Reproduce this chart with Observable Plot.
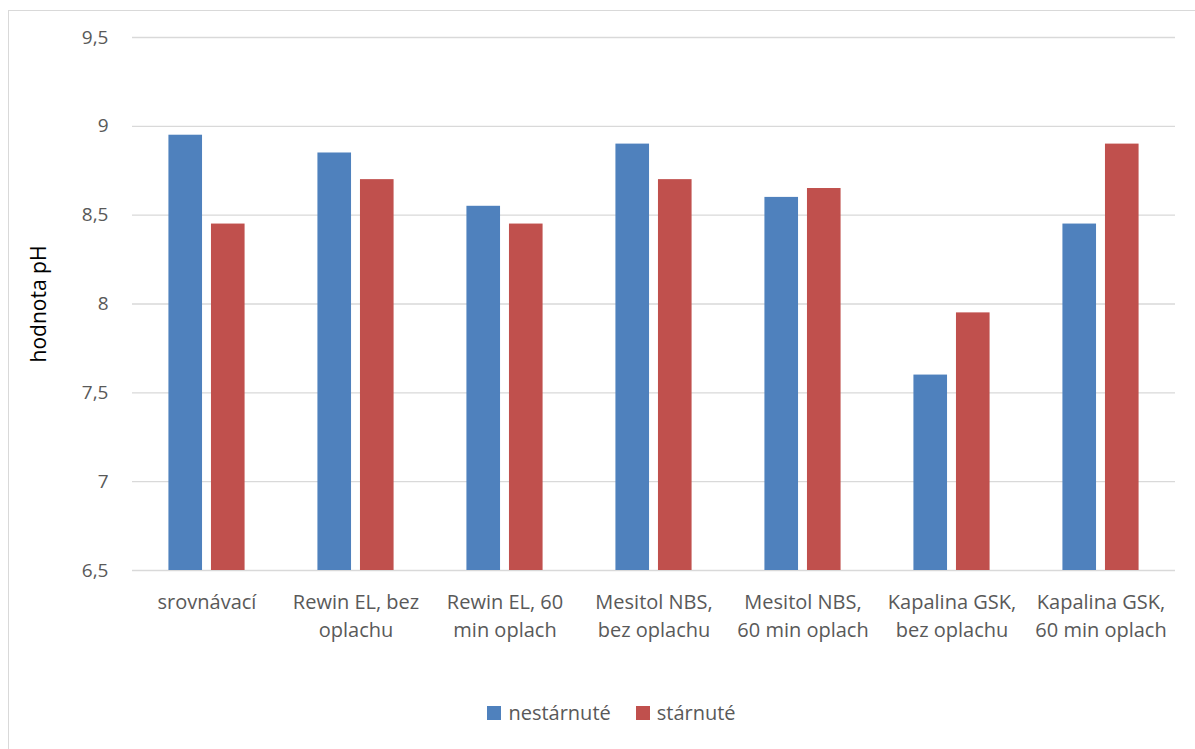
<!DOCTYPE html>
<html>
<head>
<meta charset="utf-8">
<script src="https://cdn.jsdelivr.net/npm/d3@7"></script>
<script src="https://cdn.jsdelivr.net/npm/@observablehq/plot@0.6"></script>
<style>
  body { margin: 0; background: #fff; font-family: "Open Sans", sans-serif; }
  #frame { position: absolute; left: 8px; top: 10px; width: 1200px; height: 760px; border: 1px solid #d9d9d9; box-sizing: border-box; pointer-events: none; }
  #chart { position: absolute; left: 0; top: 0; }
  #legend { position: absolute; top: 699px; left: 0; width: 1195px; display: flex; justify-content: center; gap: 25px; font-size: 20px; color: #595959; padding-left: 28px; box-sizing: border-box; }
  #legend span.item { display: inline-flex; align-items: center; gap: 7px; }
  #legend span.sw { display: inline-block; width: 14px; height: 14px; }
  g[aria-label="y-axis label"] text { font-size: 21px; fill: #000; }
</style>
</head>
<body>
<div id="chart"></div>
<div id="legend"></div>
<div id="frame"></div>
<script>
const categories = [
  "srovnávací",
  "Rewin EL, bez oplachu",
  "Rewin EL, 60 min oplach",
  "Mesitol NBS, bez oplachu",
  "Mesitol NBS, 60 min oplach",
  "Kapalina GSK, bez oplachu",
  "Kapalina GSK, 60 min oplach"
];
const tickLabels = [
  "srovnávací",
  "Rewin EL, bez\noplachu",
  "Rewin EL, 60\nmin oplach",
  "Mesitol NBS,\nbez oplachu",
  "Mesitol NBS,\n60 min oplach",
  "Kapalina GSK,\nbez oplachu",
  "Kapalina GSK,\n60 min oplach"
];
const series = ["nestárnuté", "stárnuté"];
const nestarnute = [8.95, 8.85, 8.55, 8.9, 8.6, 7.6, 8.45];
const starnute = [8.45, 8.7, 8.45, 8.7, 8.65, 7.95, 8.9];
const colors = ["#4f81bd", "#c0504d"];
const yTicks = [6.5, 7, 7.5, 8, 8.5, 9, 9.5];
const yMin = 6.5;

const data = [];
categories.forEach((c, i) => {
  data.push({category: c, series: series[0], value: nestarnute[i]});
  data.push({category: c, series: series[1], value: starnute[i]});
});

const fmt = d => String(d).replace(".", ",");
const labelOf = new Map(categories.map((c, i) => [c, tickLabels[i]]));

const chart = Plot.plot({
  width: 1195,
  height: 660,
  marginLeft: 132,
  marginRight: 20,
  marginTop: 37,
  marginBottom: 90,
  style: { fontFamily: "Open Sans, sans-serif", fontSize: "19px", color: "#595959", background: "transparent" },
  fx: { domain: categories, paddingInner: 0, paddingOuter: 0, round: false, label: null },
  x: { domain: series, paddingInner: 0.21, paddingOuter: 0.856, round: false, axis: null },
  y: { domain: [6.5, 9.5], ticks: yTicks },
  color: { domain: series, range: colors },
  marks: [
    Plot.gridY(yTicks, { stroke: "#d9d9d9", strokeOpacity: 1, strokeWidth: 1.3 }),
    Plot.barY(data, { fx: "category", x: "series", y1: yMin, y2: "value", fill: "series" }),
    Plot.axisY({ ticks: yTicks, tickSize: 0, tickPadding: 24, tickFormat: fmt, fontSize: 19, fill: "#595959",
                 label: "hodnota pH", labelAnchor: "center", labelOffset: 101, labelArrow: "none" }),
    Plot.axisFx({ anchor: "bottom", tickSize: 0, tickPadding: 19, tickFormat: c => labelOf.get(c), lineHeight: 1.4, fontSize: 20, fill: "#595959", label: null })
  ]
});
document.getElementById("chart").appendChild(chart);

const legend = document.getElementById("legend");
series.forEach((s, i) => {
  const item = document.createElement("span");
  item.className = "item";
  const sw = document.createElement("span");
  sw.className = "sw";
  sw.style.background = colors[i];
  const t = document.createElement("span");
  t.textContent = s;
  item.appendChild(sw);
  item.appendChild(t);
  legend.appendChild(item);
});
</script>
</body>
</html>
